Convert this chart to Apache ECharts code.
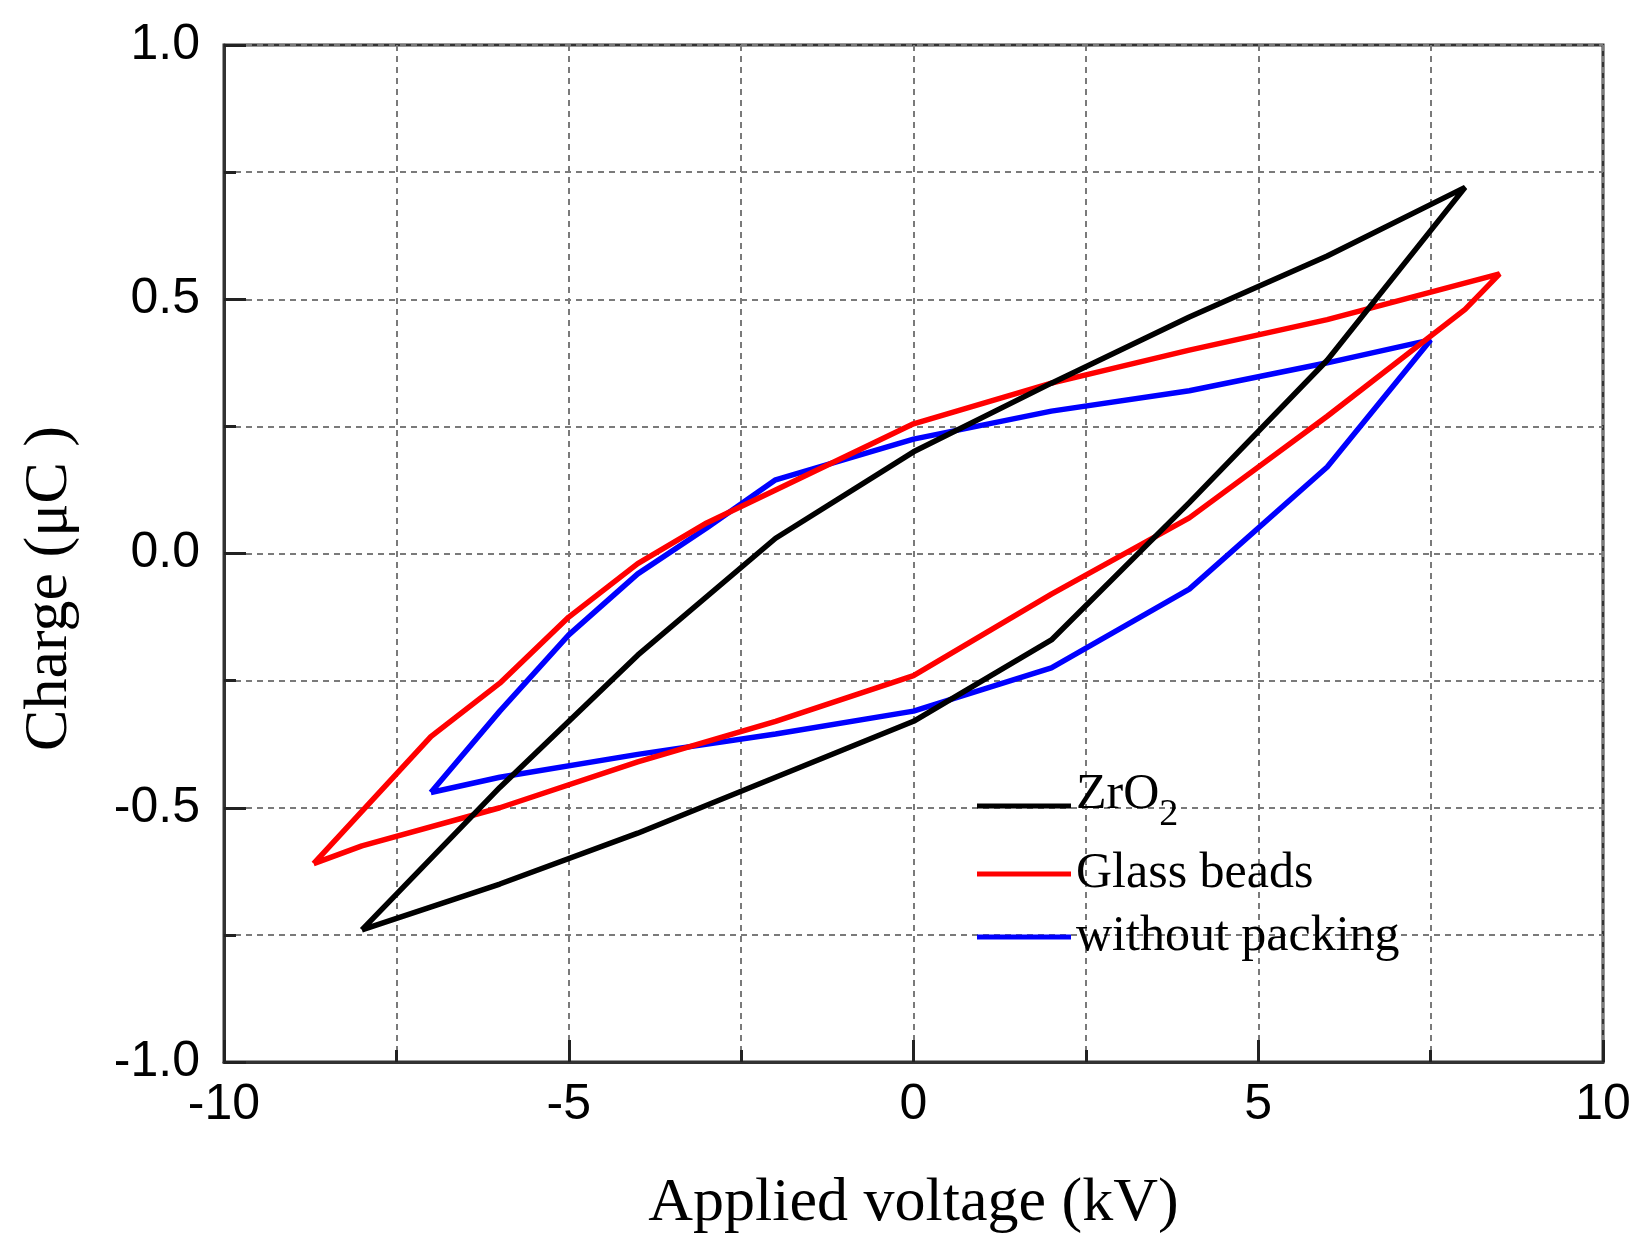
<!DOCTYPE html>
<html lang="en">
<head>
    <meta charset="UTF-8"/>
    <title>Charge - voltage loops</title>
    <script src="https://cdn.jsdelivr.net/npm/echarts@6/dist/echarts.min.js"></script>
    <style>
        html, body { margin: 0; padding: 0; background: #fff; }
        #chart { width: 1642px; height: 1250px; }
    </style>
</head>
<body>
<div id="chart"></div>
<script type="text/javascript">
    // ZrO2 packing: rising branch -8 -> 8 kV, then falling branch back to -8 kV
    var zro2Volt   = [-8, -6, -4, -2, 0, 2, 4, 6, 8, 6, 4, 2, 0, -2, -4, -6, -8];
    var zro2Charge = [-0.74, -0.46, -0.20, 0.03, 0.20, 0.335, 0.465, 0.585, 0.72, 0.38, 0.10, -0.17, -0.33, -0.44, -0.55, -0.65, -0.74];

    // glass beads packing
    var glassVolt   = [-8.7, -7, -6, -5, -4, -3, -2, 0, 2, 4, 6, 8.5, 8, 6, 4, 2, 0, -2, -4, -6, -8, -8.7];
    var glassCharge = [-0.61, -0.36, -0.255, -0.125, -0.02, 0.06, 0.125, 0.255, 0.335, 0.40, 0.46, 0.55, 0.48, 0.27, 0.07, -0.08, -0.24, -0.33, -0.41, -0.50, -0.575, -0.61];

    // without packing
    var bareVolt   = [-7, -6, -5, -4, -3, -2, 0, 2, 4, 6, 7.5, 6, 4, 2, 0, -2, -4, -6, -7];
    var bareCharge = [-0.47, -0.31, -0.16, -0.04, 0.05, 0.145, 0.225, 0.28, 0.32, 0.375, 0.42, 0.17, -0.07, -0.225, -0.31, -0.355, -0.395, -0.44, -0.47];

    var seriesNames = ['ZrO2', 'Glass beads', 'without packing'];
    var seriesColors = ['#000000', '#ff0000', '#0000ff'];

    function pairs(xs, ys) {
        var out = [];
        for (var i = 0; i < xs.length; i++) {
            out.push([xs[i], ys[i]]);
        }
        return out;
    }

    var gridLine = {show: true, lineStyle: {color: '#7a7a7a', width: 2, type: [6, 5]}};

    var myChart = echarts.init(document.getElementById('chart'));

    var legendBase = {
        orient: 'vertical',
        left: 972,
        icon: 'rect',
        itemWidth: 94,
        itemHeight: 5,
        textStyle: {fontFamily: 'Liberation Serif', fontSize: 50, color: '#000', lineHeight: 56}
    };

    var option = {
        backgroundColor: '#fff',
        animation: false,
        grid: {left: 224, right: 39, top: 45, bottom: 188, show: true, borderColor: '#333', borderWidth: 3},
        legend: [
            Object.assign({}, legendBase, {
                top: 765,
                data: [seriesNames[0]],
                formatter: function () { return '{n|ZrO}{s|2}'; },
                textStyle: {
                    fontFamily: 'Liberation Serif', fontSize: 50, color: '#000',
                    rich: {
                        n: {fontFamily: 'Liberation Serif', fontSize: 50, lineHeight: 56, padding: [0, 0, 14, 0], verticalAlign: 'bottom'},
                        s: {fontFamily: 'Liberation Serif', fontSize: 38, lineHeight: 40, verticalAlign: 'bottom'}
                    }
                }
            }),
            Object.assign({}, legendBase, {top: 841, data: [seriesNames[1]]}),
            Object.assign({}, legendBase, {top: 904, data: [seriesNames[2]]})
        ],
        xAxis: {
            type: 'value',
            min: -10,
            max: 10,
            interval: 5,
            name: 'Applied voltage (kV)',
            nameLocation: 'middle',
            nameGap: 111,
            nameTextStyle: {fontFamily: 'Liberation Serif', fontSize: 62, color: '#000'},
            axisLine: {show: true, onZero: false, lineStyle: {color: '#333', width: 3}},
            axisTick: {show: true, inside: true, length: 22, lineStyle: {color: '#222', width: 3}},
            minorTick: {show: true, splitNumber: 2, length: 12, lineStyle: {color: '#222', width: 3}},
            splitLine: gridLine,
            minorSplitLine: gridLine,
            axisLabel: {fontFamily: 'Liberation Sans', fontSize: 50, color: '#000', margin: 18}
        },
        yAxis: {
            type: 'value',
            min: -1,
            max: 1,
            interval: 0.5,
            name: 'Charge (μC )',
            nameLocation: 'middle',
            nameGap: 143,
            nameTextStyle: {fontFamily: 'Liberation Serif', fontSize: 62, color: '#000', padding: [0, 70, 0, 0]},
            axisLine: {show: true, onZero: false, lineStyle: {color: '#333', width: 3}},
            axisTick: {show: true, inside: true, length: 22, lineStyle: {color: '#222', width: 3}},
            minorTick: {show: true, splitNumber: 2, length: 12, lineStyle: {color: '#222', width: 3}},
            splitLine: gridLine,
            minorSplitLine: gridLine,
            axisLabel: {
                fontFamily: 'Liberation Sans', fontSize: 50, color: '#000', margin: 24,
                formatter: function (v) { return v.toFixed(1); }
            }
        },
        series: [
            {name: seriesNames[0], data: pairs(zro2Volt, zro2Charge)},
            {name: seriesNames[1], data: pairs(glassVolt, glassCharge)},
            {name: seriesNames[2], data: pairs(bareVolt, bareCharge)}
        ].map(function (s, i) {
            return {
                name: s.name,
                type: 'line',
                data: s.data,
                symbol: 'none',
                showSymbol: false,
                color: seriesColors[i],
                lineStyle: {color: seriesColors[i], width: 5.5},
                z: 10 - i
            };
        })
    };

    myChart.setOption(option);
</script>
</body>
</html>
